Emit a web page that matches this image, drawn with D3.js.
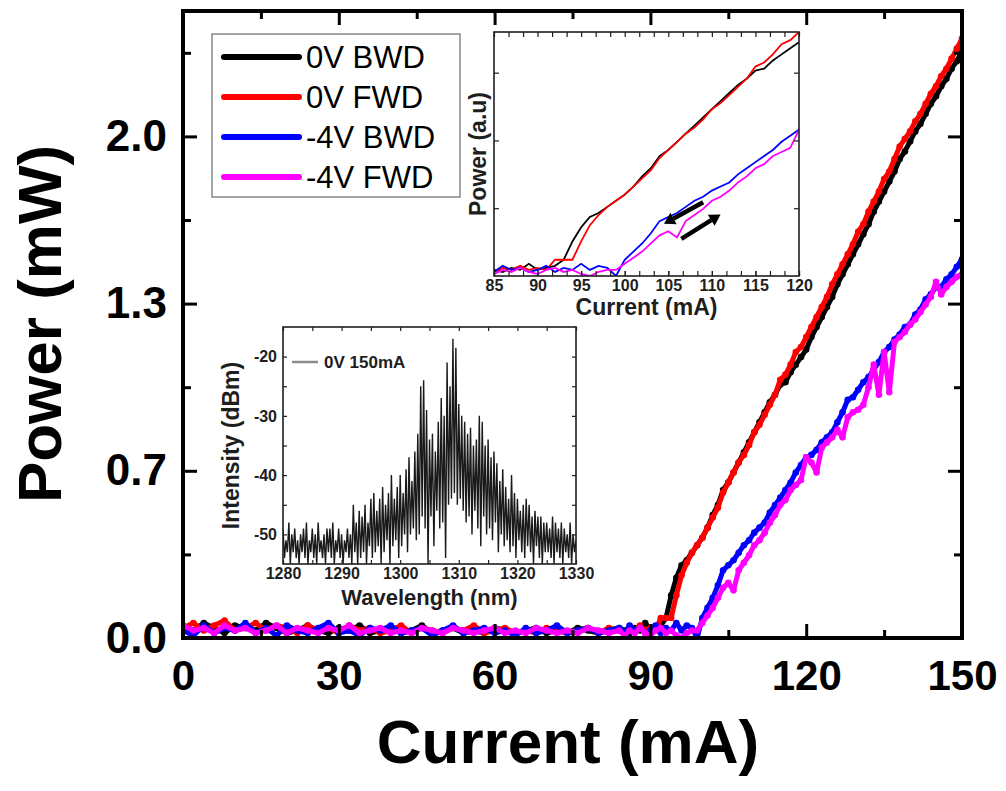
<!DOCTYPE html>
<html><head><meta charset="utf-8">
<script src="https://cdn.jsdelivr.net/npm/d3@7"></script>
<style>
body{margin:0;background:#fff}
svg text{font-family:"Liberation Sans",Arial,Helvetica,sans-serif}
</style>
</head><body>
<svg id="c" width="1006" height="791"></svg>
<script>
// ---------------- DATA ----------------
// L-I curves: current (mA) and optical power (mW)
const currentLow = [0,2,4,6,8,10,12,14,16,18,20,22,24,26,28,30,32,34,36,38,40,42,44,46,48,50,52,54,56,58,60,62,64,66,68,70,72,74,76,78,80,82,84];
const currentHigh = [85,86,87,88,89,90,91,92,93,94,95,96,97,98,99,100,101,102,103,104,105,106,107,108,109,110,111,112,113,114,115,116,117,118,119,120,121,122,123,124,125,126,127,128,129,130,131,132,133,134,135,136,137,138,139,140,141,142,143,144,145,146,147,148,149,150];

const bwd0Low = [0.05,0.03,0.06,0.04,0.02,0.05,0.04,0.03,0.06,0.04,0.02,0.03,0.05,0.03,0.02,0.04,0.03,0.05,0.02,0.03,0.04,0.02,0.03,0.05,0.02,0.03,0.04,0.02,0.03,0.02,0.04,0.03,0.02,0.03,0.04,0.02,0.03,0.02,0.04,0.03,0.02,0.03,0.04];
const fwd0Low = [0.04,0.06,0.03,0.05,0.07,0.03,0.04,0.06,0.03,0.05,0.04,0.02,0.05,0.03,0.04,0.02,0.05,0.03,0.04,0.02,0.03,0.05,0.02,0.04,0.03,0.02,0.04,0.03,0.05,0.02,0.03,0.04,0.02,0.03,0.02,0.04,0.03,0.02,0.03,0.04,0.02,0.04,0.03];
const bwd4Low = [0.03,0.01,0.05,0.02,0.04,0.03,0.06,0.02,0.04,0.01,0.05,0.03,0.02,0.04,0.06,0.02,0.03,0.01,0.04,0.03,0.05,0.02,0.03,0.04,0.01,0.03,0.05,0.02,0.03,0.04,0.02,0.03,0.01,0.04,0.02,0.03,0.05,0.02,0.03,0.04,0.02,0.03,0.04];
const fwd4Low = [0.05,0.03,0.04,0.02,0.05,0.03,0.04,0.02,0.03,0.05,0.02,0.04,0.03,0.02,0.04,0.03,0.05,0.02,0.03,0.04,0.02,0.03,0.02,0.04,0.03,0.02,0.04,0.03,0.02,0.03,0.04,0.02,0.03,0.02,0.04,0.03,0.02,0.03,0.02,0.04,0.03,0.02,0.03];

const bwd0High = [0.03,0.02,0.04,0.03,0.06,0.03,0.04,0.05,0.08,0.17,0.24,0.29,0.31,0.34,0.37,0.40,0.44,0.49,0.53,0.59,0.62,0.66,0.70,0.74,0.78,0.82,0.86,0.90,0.94,0.97,1.01,1.02,1.06,1.09,1.12,1.15,
  1.20,1.24,1.28,1.32,1.36,1.41,1.45,1.49,1.53,1.57,1.61,1.65,1.70,1.74,1.78,1.82,1.86,1.91,1.94,1.98,2.02,2.05,2.09,2.13,2.16,2.20,2.23,2.27,2.30,2.34];
const fwd0High = [0.02,0.04,0.03,0.05,0.03,0.04,0.03,0.08,0.08,0.08,0.17,0.25,0.30,0.34,0.37,0.40,0.44,0.48,0.52,0.58,0.62,0.66,0.70,0.73,0.77,0.82,0.85,0.89,0.93,0.97,1.03,1.05,1.09,1.14,1.16,1.20,
  1.24,1.28,1.32,1.36,1.41,1.45,1.49,1.53,1.57,1.62,1.65,1.70,1.74,1.78,1.83,1.86,1.91,1.96,1.99,2.02,2.06,2.09,2.13,2.17,2.20,2.24,2.27,2.31,2.35,2.39];
const bwd4High = [0.02,0.05,0.03,0.04,0.02,0.03,0.05,0.02,0.04,0.03,0.06,0.03,0.05,0.04,0.00,0.08,0.12,0.16,0.21,0.27,0.29,0.31,0.34,0.37,0.39,0.42,0.44,0.46,0.50,0.53,0.56,0.59,0.62,0.66,0.69,0.72,
  0.73,0.75,0.78,0.80,0.82,0.86,0.90,0.95,0.96,0.99,1.02,1.04,1.07,1.10,1.14,1.16,1.19,1.21,1.24,1.25,1.29,1.31,1.35,1.37,1.40,1.40,1.43,1.45,1.48,1.51];
const fwd4High = [0.01,0.03,0.02,0.04,0.02,0.01,0.03,0.04,0.02,0.03,0.01,0.00,0.02,0.03,0.03,0.06,0.09,0.12,0.16,0.20,0.22,0.19,0.27,0.30,0.33,0.37,0.39,0.42,0.46,0.49,0.53,0.55,0.59,0.61,0.63,0.72,
  0.70,0.66,0.76,0.78,0.80,0.83,0.80,0.88,0.90,0.91,0.93,1.00,1.09,0.97,1.14,0.98,1.18,1.20,1.22,1.25,1.27,1.30,1.33,1.36,1.42,1.37,1.40,1.42,1.44,1.45];

const seriesNames = ["0V BWD","0V FWD","-4V BWD","-4V FWD"];
const seriesColors = ["#000000","#ff0000","#0000ff","#ff00ff"];

const mainXTicks = [0,30,60,90,120,150];
const mainXMinor = [15,45,75,105,135];
const mainYTicks = [0,2/3,4/3,2];
const mainYMinor = [1/3,1,5/3,7/3];

// inset: zoom of threshold region (same data), power in a.u.
const insetXTicks = [85,90,95,100,105,110,115,120];
const insetYTicks = [1/3,2/3,1];
// hysteresis arrows [fromCurrent, fromPower, toCurrent, toPower]
const arrowBack = [109.0,0.363,104.5,0.257];
const arrowFwd = [106.5,0.183,111.0,0.303];

// spectrum: 0V 150mA, wavelength from 1280 nm in 0.25 nm steps, intensity in dBm
const specStart = 1280, specStep = 0.25;
const specDb = [
 -49,-54,-51,-53, -48,-55,-50,-53, -49,-54,-51,-55, -50,-53,-49,-54, -48,-55,-51,-53,
 -49,-54,-50,-55, -48,-53,-51,-54, -50,-55,-49,-53, -49,-54,-48,-55, -51,-53,-49,-54,
 -50,-55,-51,-53, -49,-54,-50,-55, -45,-53,-48,-55, -46,-54,-47,-53, -45,-55,-48,-52,
 -44,-54,-43,-53, -46,-52,-44,-55, -42,-53,-45,-51, -43,-55,-40,-52, -44,-51,-42,-54,
 -40,-52,-43,-50, -39,-53,-37,-50, -41,-49,-36,-51, -33,-50,-25,-47, -24,-49,-29,-55,
 -34,-47,-33,-52, -36,-46,-31,-49, -27,-48,-30,-54, -21,-45,-25,-44, -17,-43,-18.5,-45,
 -28,-44,-30,-46, -31,-48,-33,-47, -32,-50,-35,-46, -34,-49,-30,-52, -31,-47,-35,-50,
 -34,-49,-37,-51, -36,-48,-38,-53, -41,-50,-39,-52, -42,-51,-44,-53, -40,-52,-43,-54,
 -44,-51,-46,-53, -45,-54,-44,-52, -45,-53,-47,-55, -46,-52,-47,-54, -47,-55,-48,-53,
 -48,-53,-49,-54, -47,-55,-48,-53, -49,-54,-48,-55, -49,-53,-50,-54, -48,-55,-50,-53,
 -51];
const specXTicks = [1280,1290,1300,1310,1320,1330];
const specXMinor = [1285,1295,1305,1315,1325];
const specYTicks = [-50,-40,-30,-20];
const specYMinor = [-45,-35,-25];

// ---------------- DRAW ----------------
const svg = d3.select("#c");
const defs = svg.append("defs");
const current = currentLow.concat(currentHigh);
const seriesValues = [bwd0Low.concat(bwd0High), fwd0Low.concat(fwd0High), bwd4Low.concat(bwd4High), fwd4Low.concat(fwd4High)];

const M = {l:183, r:962, t:11, b:638};
const x = d3.scaleLinear().domain([0,150]).range([M.l,M.r]);
const y = d3.scaleLinear().domain([0,2.5]).range([M.b,M.t]);

defs.append("clipPath").attr("id","clipMain").append("rect")
  .attr("x",M.l).attr("y",M.t).attr("width",M.r-M.l).attr("height",M.b-M.t);

const gData = svg.append("g").attr("clip-path","url(#clipMain)");
seriesValues.forEach((vals,i)=>{
  const pts = current.map((c,j)=>[c, vals[j]]);
  gData.append("path")
    .attr("d", d3.line().x(d=>x(d[0])).y(d=>y(d[1]))(pts))
    .attr("fill","none").attr("stroke",seriesColors[i]).attr("stroke-width",5).attr("stroke-linejoin","round");
  gData.append("g").selectAll("circle").data(pts).enter().append("circle")
    .attr("cx",d=>x(d[0])).attr("cy",d=>y(d[1])).attr("r",3.3).attr("fill",seriesColors[i]);
});

function styleAxis(g, sw, color){
  g.select(".domain").remove();
  g.selectAll(".tick line").attr("stroke",color).attr("stroke-width",sw);
  return g;
}
// main axes
styleAxis(svg.append("g").attr("transform",`translate(0,${M.b})`)
  .call(d3.axisBottom(x).tickValues(mainXTicks).tickSize(-14).tickPadding(22).tickFormat(d3.format("d"))),3,"#000")
  .selectAll("text").attr("font-size",42).attr("font-weight","bold").attr("fill","#000");
styleAxis(svg.append("g").attr("transform",`translate(0,${M.b})`)
  .call(d3.axisBottom(x).tickValues(mainXMinor).tickSize(-8).tickFormat("")),3,"#000");
styleAxis(svg.append("g").attr("transform",`translate(0,${M.t})`)
  .call(d3.axisTop(x).tickValues(mainXTicks).tickSize(-14).tickFormat("")),3,"#000");
styleAxis(svg.append("g").attr("transform",`translate(0,${M.t})`)
  .call(d3.axisTop(x).tickValues(mainXMinor).tickSize(-8).tickFormat("")),3,"#000");
styleAxis(svg.append("g").attr("transform",`translate(${M.l},0)`)
  .call(d3.axisLeft(y).tickValues(mainYTicks).tickSize(-14).tickPadding(16).tickFormat(d3.format(".1f"))),3,"#000")
  .selectAll("text").attr("font-size",44).attr("font-weight","bold").attr("fill","#000");
styleAxis(svg.append("g").attr("transform",`translate(${M.l},0)`)
  .call(d3.axisLeft(y).tickValues(mainYMinor).tickSize(-8).tickFormat("")),3,"#000");
styleAxis(svg.append("g").attr("transform",`translate(${M.r},0)`)
  .call(d3.axisRight(y).tickValues(mainYTicks).tickSize(-14).tickFormat("")),3,"#000");
styleAxis(svg.append("g").attr("transform",`translate(${M.r},0)`)
  .call(d3.axisRight(y).tickValues(mainYMinor).tickSize(-8).tickFormat("")),3,"#000");

svg.append("rect").attr("x",M.l).attr("y",M.t).attr("width",M.r-M.l).attr("height",M.b-M.t)
  .attr("fill","none").attr("stroke","#000").attr("stroke-width",4);

svg.append("text").attr("x",568).attr("y",763).attr("text-anchor","middle")
  .attr("font-size",62).attr("font-weight","bold").text("Current (mA)");
svg.append("text").attr("transform","translate(61,324) rotate(-90)").attr("text-anchor","middle")
  .attr("font-size",62).attr("font-weight","bold").text("Power (mW)");

// legend
const lg = svg.append("g");
lg.append("rect").attr("x",212).attr("y",34).attr("width",248).attr("height",163)
  .attr("fill","#fff").attr("stroke","#888").attr("stroke-width",1.5);
seriesNames.forEach((n,i)=>{
  const yy = 57 + i*40;
  lg.append("line").attr("x1",224).attr("x2",299).attr("y1",yy).attr("y2",yy)
    .attr("stroke",seriesColors[i]).attr("stroke-width",6).attr("stroke-linecap","round");
  lg.append("text").attr("x",306).attr("y",yy+11).attr("font-size",31).attr("fill","#000").text(n);
});

// ---------------- inset 1: threshold zoom ----------------
const I = {l:494, r:799, t:32, b:276};
const ix = d3.scaleLinear().domain([85,120]).range([I.l,I.r]);
const iy = d3.scaleLinear().domain([0,1.2]).range([I.b,I.t]);
svg.append("rect").attr("x",I.l).attr("y",I.t).attr("width",I.r-I.l).attr("height",I.b-I.t).attr("fill","#fff");
defs.append("clipPath").attr("id","clipIn").append("rect")
  .attr("x",I.l).attr("y",I.t).attr("width",I.r-I.l).attr("height",I.b-I.t);
const gIn = svg.append("g").attr("clip-path","url(#clipIn)");
seriesValues.forEach((vals,i)=>{
  const pts = current.map((c,j)=>[c, vals[j]]).filter(d=>d[0]>=84 && d[0]<=121);
  gIn.append("path").attr("d", d3.line().x(d=>ix(d[0])).y(d=>iy(d[1]))(pts))
    .attr("fill","none").attr("stroke",seriesColors[i]).attr("stroke-width",1.8);
});
// arrows
function arrow(g, a, sx, sy){
  const x1=sx(a[0]), y1=sy(a[1]), x2=sx(a[2]), y2=sy(a[3]);
  const ang=Math.atan2(y2-y1,x2-x1), hl=11, hw=6.5;
  const bx=x2-hl*Math.cos(ang), by=y2-hl*Math.sin(ang);
  g.append("line").attr("x1",x1).attr("y1",y1).attr("x2",bx).attr("y2",by)
    .attr("stroke","#000").attr("stroke-width",4.5);
  const px=-Math.sin(ang)*hw, py=Math.cos(ang)*hw;
  g.append("path").attr("d",`M${x2},${y2}L${bx+px},${by+py}L${bx-px},${by-py}Z`).attr("fill","#000");
}
arrow(svg, arrowBack, ix, iy);
arrow(svg, arrowFwd, ix, iy);

const inkC = "#1e1e1e";
styleAxis(svg.append("g").attr("transform",`translate(0,${I.b})`)
  .call(d3.axisBottom(ix).tickValues(insetXTicks).tickSize(-5).tickPadding(4).tickFormat(d3.format("d"))),1.2,inkC)
  .selectAll("text").attr("font-size",16).attr("font-weight","bold").attr("fill",inkC);
styleAxis(svg.append("g").attr("transform",`translate(0,${I.b})`)
  .call(d3.axisBottom(ix).tickValues(d3.range(85,120.01,5/3)).tickSize(-5).tickFormat("")),1.2,inkC);
styleAxis(svg.append("g").attr("transform",`translate(0,${I.t})`)
  .call(d3.axisTop(ix).tickValues(d3.range(85,120.01,5/3)).tickSize(-5).tickFormat("")),1.2,inkC);
styleAxis(svg.append("g").attr("transform",`translate(${I.l},0)`)
  .call(d3.axisLeft(iy).tickValues(insetYTicks).tickSize(-5).tickFormat("")),1.2,inkC);
styleAxis(svg.append("g").attr("transform",`translate(${I.r},0)`)
  .call(d3.axisRight(iy).tickValues(insetYTicks).tickSize(-5).tickFormat("")),1.2,inkC);
svg.append("rect").attr("x",I.l).attr("y",I.t).attr("width",I.r-I.l).attr("height",I.b-I.t)
  .attr("fill","none").attr("stroke",inkC).attr("stroke-width",1.6);
svg.append("text").attr("x",(I.l+I.r)/2).attr("y",315).attr("text-anchor","middle")
  .attr("font-size",23).attr("font-weight","bold").attr("fill",inkC).text("Current (mA)");
svg.append("text").attr("transform",`translate(486,${(I.t+I.b)/2}) rotate(-90)`).attr("text-anchor","middle")
  .attr("font-size",23).attr("font-weight","bold").attr("fill",inkC).text("Power (a.u)");

// ---------------- inset 2: spectrum ----------------
const S = {l:283, r:576, t:327, b:564};
const sx = d3.scaleLinear().domain([1280,1330]).range([S.l,S.r]);
const sy = d3.scaleLinear().domain([-55,-15]).range([S.b,S.t]);
svg.append("rect").attr("x",S.l).attr("y",S.t).attr("width",S.r-S.l).attr("height",S.b-S.t).attr("fill","#fff");
defs.append("clipPath").attr("id","clipSp").append("rect")
  .attr("x",S.l).attr("y",S.t).attr("width",S.r-S.l).attr("height",S.b-S.t);
svg.append("g").attr("clip-path","url(#clipSp)").append("path")
  .attr("d", d3.line().x((d,i)=>sx(specStart+i*specStep)).y(d=>sy(d))(specDb))
  .attr("fill","none").attr("stroke","#1a1a1a").attr("stroke-width",1.4);

styleAxis(svg.append("g").attr("transform",`translate(0,${S.b})`)
  .call(d3.axisBottom(sx).tickValues(specXTicks).tickSize(-4).tickPadding(4).tickFormat(d3.format("d"))),1.2,inkC)
  .selectAll("text").attr("font-size",16).attr("font-weight","bold").attr("fill",inkC);
styleAxis(svg.append("g").attr("transform",`translate(0,${S.b})`)
  .call(d3.axisBottom(sx).tickValues(specXMinor).tickSize(-4).tickFormat("")),1.2,inkC);
styleAxis(svg.append("g").attr("transform",`translate(0,${S.t})`)
  .call(d3.axisTop(sx).tickValues(specXTicks.concat(specXMinor)).tickSize(-4).tickFormat("")),1.2,inkC);
styleAxis(svg.append("g").attr("transform",`translate(${S.l},0)`)
  .call(d3.axisLeft(sy).tickValues(specYTicks).tickSize(-4).tickPadding(6).tickFormat(d=>String(d))),1.2,inkC)
  .selectAll("text").attr("font-size",16).attr("font-weight","bold").attr("fill",inkC);
styleAxis(svg.append("g").attr("transform",`translate(${S.l},0)`)
  .call(d3.axisLeft(sy).tickValues(specYMinor).tickSize(-4).tickFormat("")),1.2,inkC);
styleAxis(svg.append("g").attr("transform",`translate(${S.r},0)`)
  .call(d3.axisRight(sy).tickValues(specYTicks.concat(specYMinor)).tickSize(-4).tickFormat("")),1.2,inkC);
svg.append("rect").attr("x",S.l).attr("y",S.t).attr("width",S.r-S.l).attr("height",S.b-S.t)
  .attr("fill","none").attr("stroke",inkC).attr("stroke-width",1.6);
svg.append("text").attr("x",(S.l+S.r)/2).attr("y",605).attr("text-anchor","middle")
  .attr("font-size",22).attr("font-weight","bold").attr("fill",inkC).text("Wavelength (nm)");
svg.append("text").attr("transform",`translate(239,${(S.t+S.b)/2}) rotate(-90)`).attr("text-anchor","middle")
  .attr("font-size",23).attr("font-weight","bold").attr("fill",inkC).text("Intensity (dBm)");
svg.append("line").attr("x1",292).attr("x2",318).attr("y1",362).attr("y2",362)
  .attr("stroke","#8c8c8c").attr("stroke-width",2.5);
svg.append("text").attr("x",324).attr("y",368).attr("font-size",17).attr("font-weight","bold")
  .attr("fill",inkC).text("0V 150mA");
</script>
</body></html>
